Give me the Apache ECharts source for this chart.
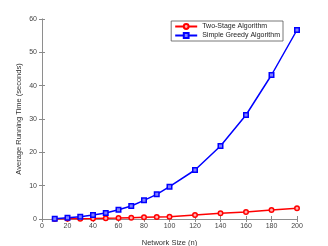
<!DOCTYPE html>
<html><head><meta charset="utf-8">
<script src="https://cdn.jsdelivr.net/npm/echarts@6/dist/echarts.min.js"></script>
<style>html,body{margin:0;padding:0;background:#fff}#c{width:328px;height:246px}</style>
</head><body><div id="c"></div>
<script>
const networkSizes = [10,20,30,40,50,60,70,80,90,100,120,140,160,180,200];
const twoStage = [0.02,0.05,0.1,0.15,0.25,0.3,0.4,0.5,0.6,0.7,1.2,1.7,2.1,2.7,3.2];
const simpleGreedy = [0.1,0.4,0.7,1.2,1.8,2.8,3.9,5.6,7.4,9.7,14.7,21.9,31.2,43.2,56.7];
const seriesNames = ['Two-Stage Algorithm','Simple Greedy Algorithm'];
const xTitle = 'Network Size (n)';
const yTitle = 'Average Running Time (seconds)';

const chart = echarts.init(document.getElementById('c'));
const axisCol = '#8a8a8a';
const lab = {color:'#444', fontSize:7, fontFamily:'Liberation Sans, Arial'};
chart.setOption({
  animation:false,
  grid:{left:42,right:31,top:19,bottom:27,outerBoundsMode:'none',containLabel:false},
  legend:{
    data:seriesNames, orient:'vertical', right:45, top:21,
    itemWidth:22, itemHeight:6, itemGap:2,
    padding:[2,3,2,3],
    borderColor:'#555', borderWidth:0.8, backgroundColor:'#fff',
    textStyle:{fontSize:7, color:'#222', fontFamily:'Liberation Sans, Arial'}
  },
  xAxis:[{
    type:'value', min:0, max:200, interval:20,
    name:xTitle, nameLocation:'middle', nameGap:20, nameMoveOverlap:false,
    nameTextStyle:{fontSize:7.5, color:'#333', fontFamily:'Liberation Sans, Arial'},
    axisLine:{lineStyle:{color:axisCol,width:0.8}},
    axisTick:{inside:true,length:3,lineStyle:{color:axisCol}},
    axisLabel:Object.assign({margin:4},lab),
    splitLine:{show:false}
  },{
    type:'value', min:0, max:200, interval:20, position:'top',
    axisLine:{show:true,lineStyle:{color:axisCol,width:0.8}},
    axisTick:{inside:true,length:3,lineStyle:{color:axisCol}},
    axisLabel:{show:false}, splitLine:{show:false}
  }],
  yAxis:[{
    type:'value', min:0, max:60, interval:10,
    name:yTitle, nameLocation:'middle', nameGap:19, nameMoveOverlap:false,
    nameTextStyle:{fontSize:7.5, color:'#333', fontFamily:'Liberation Sans, Arial'},
    axisLine:{show:true,lineStyle:{color:axisCol,width:0.8}},
    axisTick:{show:true,inside:true,length:3,lineStyle:{color:axisCol}},
    axisLabel:Object.assign({margin:5},lab),
    splitLine:{show:false}
  },{
    type:'value', min:0, max:60, interval:10, position:'right',
    axisLine:{show:true,lineStyle:{color:axisCol,width:0.8}},
    axisTick:{show:true,inside:true,length:3,lineStyle:{color:axisCol}},
    axisLabel:{show:false}, splitLine:{show:false}
  }],
  series:[{
    name:seriesNames[0], type:'line',
    data:networkSizes.map((x,i)=>[x,twoStage[i]]),
    symbol:'circle', symbolSize:4.5, showAllSymbol:true,
    lineStyle:{color:'#ff0000',width:1.5},
    itemStyle:{color:'#ffb0b0',borderColor:'#ff0000',borderWidth:1.5},
    emphasis:{disabled:true}
  },{
    name:seriesNames[1], type:'line',
    data:networkSizes.map((x,i)=>[x,simpleGreedy[i]]),
    symbol:'rect', symbolSize:4.5, showAllSymbol:true,
    lineStyle:{color:'#0000ff',width:1.5},
    itemStyle:{color:'#8080ff',borderColor:'#0000ff',borderWidth:1.5},
    emphasis:{disabled:true}
  }]
});
</script></body></html>
